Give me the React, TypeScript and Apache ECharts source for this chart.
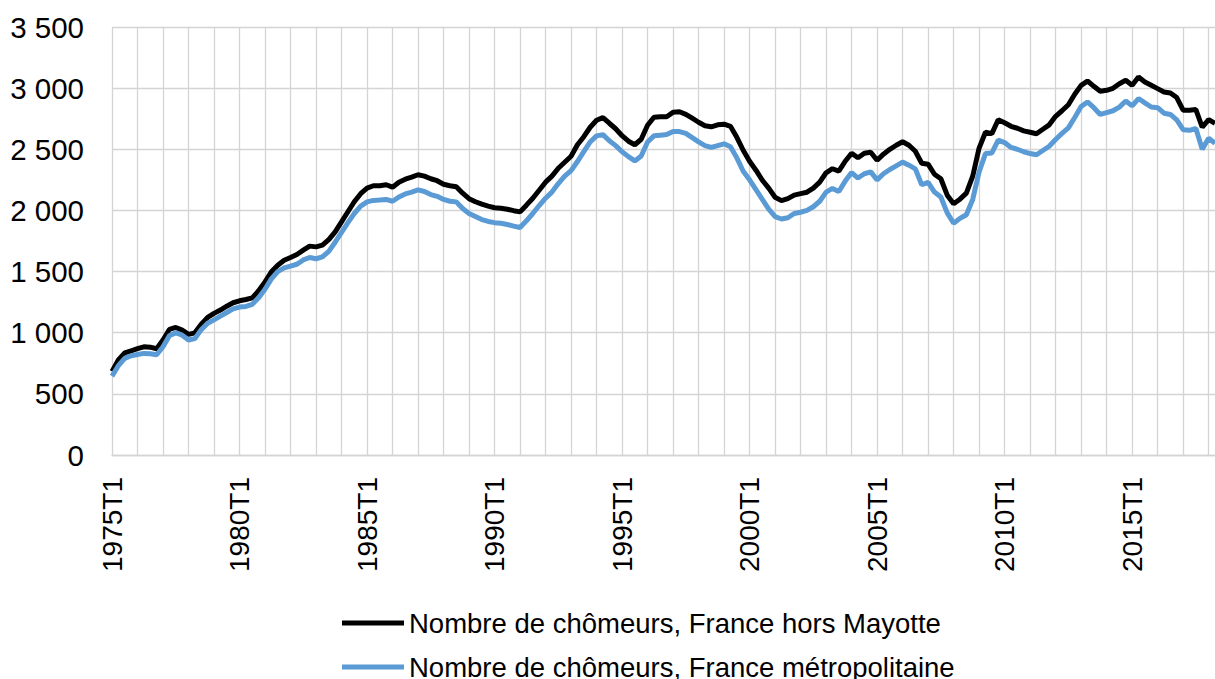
import React, { useEffect, useRef } from "react";
import * as echarts from "echarts";

const FIRST_YEAR = 1975;
const LAST_YEAR = 2018;
const LAST_QUARTER_OF_LAST_YEAR = 2;

const quarters: string[] = [];
for (let y = FIRST_YEAR; y <= LAST_YEAR; y++) {
  for (let q = 1; q <= 4; q++) {
    if (y === LAST_YEAR && q > LAST_QUARTER_OF_LAST_YEAR) break;
    quarters.push(`${y}T${q}`);
  }
}

const seriesNames = [
  "Nombre de chômeurs, France hors Mayotte",
  "Nombre de chômeurs, France métropolitaine",
];

const horsMayotte: number[] = [
  684, 777, 835, 852, 869, 885, 882, 869, 940, 1027,
  1043, 1021, 986, 999, 1070, 1125, 1158, 1185, 1217, 1245,
  1261, 1272, 1285, 1343, 1416, 1498, 1552, 1593, 1615, 1640,
  1675, 1708, 1702, 1716, 1762, 1825, 1907, 1989, 2071, 2137,
  2182, 2202, 2202, 2210, 2190, 2231, 2255, 2272, 2292, 2280,
  2259, 2243, 2214, 2202, 2194, 2141, 2096, 2071, 2051, 2035,
  2022, 2018, 2010, 1998, 1988, 2043, 2100, 2165, 2231, 2280,
  2345, 2394, 2443, 2537, 2603, 2680, 2737, 2759, 2713, 2668,
  2611, 2566, 2537, 2582, 2696, 2762, 2766, 2766, 2803, 2807,
  2786, 2754, 2721, 2692, 2684, 2700, 2705, 2688, 2598, 2492,
  2402, 2329, 2247, 2182, 2108, 2080, 2096, 2125, 2137, 2149,
  2182, 2231, 2308, 2341, 2321, 2402, 2468, 2431, 2468, 2476,
  2410, 2460, 2500, 2533, 2562, 2533, 2484, 2386, 2378, 2296,
  2259, 2125, 2055, 2092, 2141, 2280, 2510, 2639, 2628, 2741,
  2717, 2688, 2672, 2651, 2639, 2627, 2664, 2700, 2770, 2815,
  2864, 2950, 3023, 3058, 3015, 2974, 2982, 2999, 3036, 3064,
  3023, 3091, 3050, 3023, 2996, 2969, 2960, 2923, 2820, 2820,
  2825, 2680, 2743, 2712,
];

const metropole: number[] = [
  645, 730, 790, 812, 822, 831, 828, 820, 885, 975,
  1000, 980, 940, 952, 1025, 1078, 1105, 1135, 1165, 1195,
  1210, 1215, 1232, 1285, 1355, 1440, 1500, 1530, 1545, 1560,
  1595, 1615, 1605, 1620, 1665, 1740, 1820, 1900, 1975, 2035,
  2070, 2082, 2085, 2090, 2075, 2110, 2135, 2150, 2168, 2155,
  2130, 2115, 2090, 2075, 2070, 2015, 1975, 1950, 1925, 1910,
  1900, 1895, 1885, 1872, 1860, 1915, 1975, 2040, 2100, 2150,
  2220, 2280, 2325, 2400, 2480, 2560, 2610, 2620, 2570, 2530,
  2480, 2440, 2405, 2445, 2560, 2610, 2615, 2620, 2645, 2645,
  2630, 2595, 2560, 2530, 2515, 2530, 2545, 2520, 2430, 2320,
  2250, 2170, 2090, 2010, 1950, 1930, 1940, 1975, 1985, 2000,
  2030, 2075, 2150, 2180, 2155, 2240, 2310, 2265, 2300, 2315,
  2250, 2300, 2335, 2365, 2395, 2370, 2340, 2210, 2230, 2150,
  2110, 1980, 1895, 1935, 1965, 2090, 2315, 2465, 2470, 2575,
  2555, 2515, 2500, 2480, 2465, 2455, 2490, 2525, 2580, 2630,
  2675, 2760, 2850, 2887, 2840, 2785, 2800, 2815, 2845, 2895,
  2855, 2915, 2880, 2846, 2840, 2795, 2785, 2740, 2660, 2655,
  2670, 2500, 2590, 2550,
];

const yTicks = { min: 0, max: 3500, interval: 500 };
const colors = ["#000000", "#5b9bd5"];

const fmtThousands = (v: number) =>
  v >= 1000 ? `${Math.floor(v / 1000)} ${String(v % 1000).padStart(3, "0")}` : String(v);

export default function App() {
  const ref = useRef<HTMLDivElement>(null);
  useEffect(() => {
    if (!ref.current) return;
    const chart = echarts.init(ref.current, undefined, { renderer: "svg" });
    const font = "'Liberation Sans', Arial, sans-serif";
    const legendCommon = {
      orient: "vertical" as const,
      left: 342,
      padding: 0,
      icon: "rect",
      itemWidth: 62,
      itemHeight: 5,
      textStyle: { fontFamily: font, fontSize: 27.5, color: "#000", lineHeight: 28 },
    };
    chart.setOption({
      animation: false,
      backgroundColor: "#ffffff",
      color: colors,
      grid: { left: 112, top: 27, width: 1103, height: 428, containLabel: false },
      legend: [
        { ...legendCommon, top: 609, data: [seriesNames[0]] },
        { ...legendCommon, top: 653, data: [seriesNames[1]] },
      ],
      xAxis: {
        type: "category",
        data: quarters,
        boundaryGap: false,
        axisLine: { show: true, lineStyle: { color: "#d4d4d4", width: 1.3 } },
        axisTick: { show: false },
        axisLabel: {
          interval: 19,
          rotate: 90,
          margin: 22,
          fontFamily: font,
          fontSize: 28,
          color: "#000",
        },
        splitLine: { show: true, interval: 3, lineStyle: { color: "#d4d4d4", width: 1.3 } },
      },
      yAxis: {
        type: "value",
        min: yTicks.min,
        max: yTicks.max,
        interval: yTicks.interval,
        axisLine: { show: false },
        axisTick: { show: false },
        axisLabel: {
          margin: 28,
          fontFamily: font,
          fontSize: 29.5,
          color: "#000",
          formatter: (v: number) => fmtThousands(v),
        },
        splitLine: { show: true, lineStyle: { color: "#d4d4d4", width: 1.3 } },
      },
      series: [
        {
          name: seriesNames[0],
          type: "line",
          data: horsMayotte,
          showSymbol: false,
          symbol: "none",
          lineStyle: { width: 5, color: colors[0] },
          itemStyle: { color: colors[0] },
        },
        {
          name: seriesNames[1],
          type: "line",
          data: metropole,
          showSymbol: false,
          symbol: "none",
          lineStyle: { width: 5, color: colors[1] },
          itemStyle: { color: colors[1] },
        },
      ],
    });
    return () => chart.dispose();
  }, []);
  return (
    <div
      ref={ref}
      style={{ position: "absolute", left: 0, top: 0, width: 1215, height: 679 }}
    />
  );
}
